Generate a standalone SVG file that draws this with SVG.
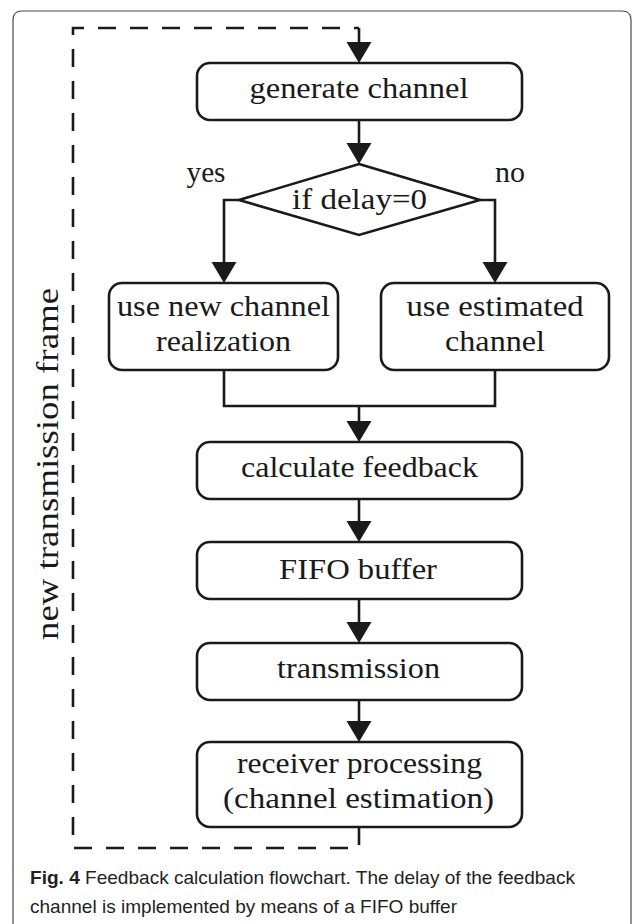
<svg xmlns="http://www.w3.org/2000/svg" width="635" height="924" viewBox="0 0 635 924">
  <style>
    .box { fill: #ffffff; stroke: #1a1a1a; stroke-width: 2.6; }
    .lbl { font-family: "Liberation Serif", "DejaVu Serif", serif; font-size: 30px; fill: #1a1a1a; text-anchor: middle; }
    .side { font-size: 32px; }
    .wire { fill: none; stroke: #1a1a1a; stroke-width: 2.6; }
    .loop { fill: none; stroke: #1a1a1a; stroke-width: 2.6; stroke-dasharray: 18 14; }
    .cap { font-family: "Liberation Sans", "Noto Sans", sans-serif; font-size: 19px; fill: #231f20; }
  </style>
  <defs>
    <marker id="arrow" markerUnits="userSpaceOnUse" markerWidth="22" markerHeight="26" refX="11" refY="12.5" orient="auto">
      <path d="M0,0 L21,12.5 L0,25 Z" fill="#1a1a1a"/>
    </marker>
  </defs>

  <rect width="635" height="924" fill="#ffffff"/>
  <!-- figure panel border, open at the bottom -->
  <path d="M13,924 V20 Q13,11 22,11 H622 Q631,11 631,20 V924" fill="none" stroke="#4a4a4a" stroke-width="1.2"/>

  <!-- connectors -->
  <g id="connectors">
    <path class="loop" d="M359,827 V848 H73 V28 H359"/>
    <path class="wire" d="M359,28 V53" marker-end="url(#arrow)"/>
    <path class="wire" d="M359,120 V154" marker-end="url(#arrow)"/>
    <path class="wire" d="M239,200 H224 V273" marker-end="url(#arrow)"/>
    <path class="wire" d="M480,200 H495 V273" marker-end="url(#arrow)"/>
    <path class="wire" d="M224,370 V406 H495 V370"/>
    <path class="wire" d="M359,406 V432" marker-end="url(#arrow)"/>
    <path class="wire" d="M359,499 V532" marker-end="url(#arrow)"/>
    <path class="wire" d="M359,599 V633" marker-end="url(#arrow)"/>
    <path class="wire" d="M359,700 V732" marker-end="url(#arrow)"/>
    <text class="lbl" x="206" y="182" textLength="39" lengthAdjust="spacingAndGlyphs">yes</text>
    <text class="lbl" x="510" y="182" textLength="30" lengthAdjust="spacingAndGlyphs">no</text>
    <text class="lbl side" transform="translate(58,464) rotate(-90)" x="0" y="0" textLength="352" lengthAdjust="spacingAndGlyphs">new transmission frame</text>
  </g>

  <g id="generate">
    <rect class="box" x="197" y="63" width="325" height="57" rx="13"/>
    <text class="lbl" x="359" y="98" textLength="219" lengthAdjust="spacingAndGlyphs">generate channel</text>
  </g>

  <g id="decision">
    <polygon class="box" points="359,164 480,200 359,235 239,200"/>
    <text class="lbl" x="359.5" y="209" textLength="135" lengthAdjust="spacingAndGlyphs">if delay=0</text>
  </g>

  <g id="new-channel">
    <rect class="box" x="109" y="283" width="229" height="87" rx="13"/>
    <text class="lbl" x="223.5" y="316" textLength="213" lengthAdjust="spacingAndGlyphs">use new channel</text>
    <text class="lbl" x="223.5" y="351" textLength="135" lengthAdjust="spacingAndGlyphs">realization</text>
  </g>

  <g id="estimated-channel">
    <rect class="box" x="381" y="283" width="228" height="87" rx="13"/>
    <text class="lbl" x="495" y="316" textLength="177" lengthAdjust="spacingAndGlyphs">use estimated</text>
    <text class="lbl" x="495" y="351" textLength="100" lengthAdjust="spacingAndGlyphs">channel</text>
  </g>

  <g id="feedback">
    <rect class="box" x="197" y="442" width="325" height="57" rx="13"/>
    <text class="lbl" x="359.5" y="477" textLength="237" lengthAdjust="spacingAndGlyphs">calculate feedback</text>
  </g>

  <g id="fifo">
    <rect class="box" x="197" y="542" width="325" height="57" rx="13"/>
    <text class="lbl" x="358" y="579" textLength="158" lengthAdjust="spacingAndGlyphs">FIFO buffer</text>
  </g>

  <g id="transmission">
    <rect class="box" x="197" y="643" width="325" height="57" rx="13"/>
    <text class="lbl" x="358.5" y="678" textLength="163" lengthAdjust="spacingAndGlyphs">transmission</text>
  </g>

  <g id="receiver">
    <rect class="box" x="197" y="742" width="325" height="85" rx="13"/>
    <text class="lbl" x="359.5" y="773" textLength="245" lengthAdjust="spacingAndGlyphs">receiver processing</text>
    <text class="lbl" x="358.5" y="808" textLength="271" lengthAdjust="spacingAndGlyphs">(channel estimation)</text>
  </g>

  <g id="caption">
    <text class="cap" x="30" y="884" textLength="545" lengthAdjust="spacingAndGlyphs"><tspan font-weight="bold">Fig. 4</tspan> Feedback calculation flowchart. The delay of the feedback</text>
    <text class="cap" x="30" y="913" textLength="427" lengthAdjust="spacingAndGlyphs">channel is implemented by means of a FIFO buffer</text>
  </g>
</svg>
